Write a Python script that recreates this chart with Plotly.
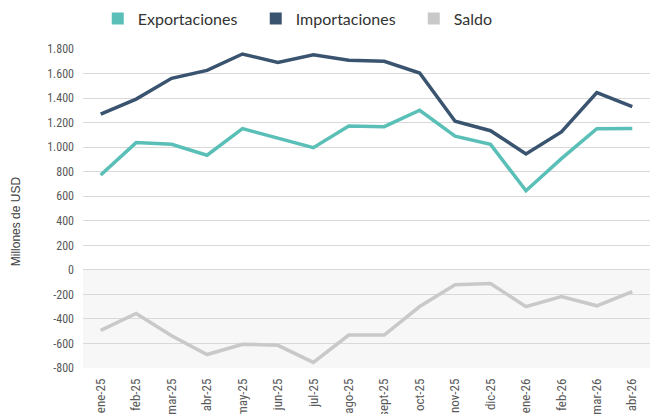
import plotly.graph_objects as go

months = ["ene-25", "feb-25", "mar-25", "abr-25", "may-25", "jun-25", "jul-25", "ago-25",
          "sept-25", "oct-25", "nov-25", "dic-25", "ene-26", "feb-26", "mar-26", "abr-26"]
exportaciones = [773, 1037, 1023, 934, 1151, 1075, 996, 1173, 1167, 1301, 1090, 1023, 645, 906, 1150, 1153]
importaciones = [1270, 1392, 1561, 1626, 1759, 1691, 1753, 1708, 1700, 1604, 1211, 1134, 945, 1124, 1445, 1331]
saldo = [-493, -355, -538, -690, -606, -615, -754, -531, -531, -299, -122, -112, -300, -218, -293, -178]

ytick_vals = [-800, -600, -400, -200, 0, 200, 400, 600, 800, 1000, 1200, 1400, 1600, 1800]
ytick_text = ["-800", "-600", "-400", "-200", "0", "200", "400", "600", "800",
              "1.000", "1.200", "1.400", "1.600", "1.800"]

series = [
    ("Exportaciones", exportaciones, "#59bfb7"),
    ("Importaciones", importaciones, "#3a5470"),
    ("Saldo", saldo, "#c9c9c9"),
]

fig = go.Figure()
for name, vals, color in series:
    fig.add_trace(go.Scatter(x=months, y=vals, mode="lines", name=name,
                             line=dict(color=color, width=3.5), showlegend=False))
for name, vals, color in series:
    fig.add_trace(go.Scatter(x=[months[0]], y=[None], mode="markers", name=name,
                             marker=dict(symbol="square", size=12, color=color),
                             showlegend=True))

fig.add_shape(type="rect", xref="paper", yref="y", x0=0, x1=1, y0=-800, y1=0,
              fillcolor="#f7f7f7", line=dict(width=0), layer="below")

tick_font = dict(family="Liberation Sans Narrow, Arial Narrow, Roboto Condensed, sans-serif",
                 size=12, color="#595959")
xtick_font = dict(family="Liberation Sans Narrow, Arial Narrow, Roboto Condensed, sans-serif",
                  size=13, color="#595959")

fig.update_layout(
    width=650, height=414,
    margin=dict(l=83, r=0, t=49, b=46),
    paper_bgcolor="white", plot_bgcolor="white",
    font=dict(family="Lato, sans-serif"),
    legend=dict(orientation="h", xref="container", yref="container",
                x=0.515, xanchor="center", y=0.955, yanchor="middle",
                font=dict(family="Lato, sans-serif", size=16, color="#333333"),
                entrywidth=113, entrywidthmode="pixels",
                itemsizing="constant"),
    xaxis=dict(type="category", range=[-0.5, 15.5], tickangle=-90, tickfont=xtick_font,
               showgrid=False, showline=False, ticks="", automargin=False,
               ticklabelstandoff=7),
    yaxis=dict(range=[-800, 1800], tickvals=ytick_vals, ticktext=ytick_text,
               tickfont=tick_font, showgrid=True, gridcolor="#d9d9d9", gridwidth=1,
               zeroline=False, showline=False, ticks="", ticklabelstandoff=8,
               automargin=False),
    annotations=[dict(text="Millones de USD", xref="paper", yref="paper",
                      x=-(83 - 16) / 567, y=0.46, textangle=-90, showarrow=False,
                      font=dict(family="Liberation Sans Narrow, Arial Narrow, sans-serif",
                                size=12, color="#404040"),
                      xanchor="center", yanchor="middle")],
)

fig.write_html("out.html", config={"displayModeBar": False},
               post_script="document.body.style.margin='0';document.body.style.overflow='hidden';")
